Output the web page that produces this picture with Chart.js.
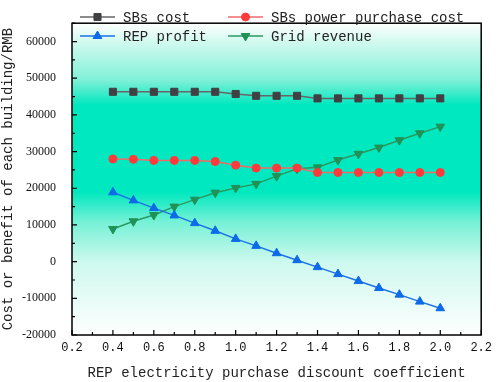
<!doctype html>
<html lang="en">
<head>
  <meta charset="utf-8">
  <title>REP electricity purchase discount coefficient</title>
  <style>
    * { margin: 0; padding: 0; }
    body { background: white; }
    .chartBox { width: 498px; height: 382px; position: relative; }
  </style>
</head>
<body>
<div class="chartBox">
  <canvas id="myChart"></canvas>
</div>

<script src="https://cdn.jsdelivr.net/npm/chart.js"></script>
<script>
  // discount coefficient (x)
  const coef = [0.4, 0.5, 0.6, 0.7, 0.8, 0.9, 1.0, 1.1, 1.2, 1.3, 1.4, 1.5, 1.6, 1.7, 1.8, 1.9, 2.0];

  // values (RMB)
  const sbsCost      = [46300, 46300, 46300, 46300, 46300, 46300, 45700, 45200, 45200, 45200, 44500, 44500, 44500, 44500, 44500, 44500, 44500];
  const sbsPurchase  = [28000, 27900, 27600, 27600, 27600, 27300, 26300, 25500, 25500, 25500, 24300, 24300, 24300, 24300, 24300, 24300, 24300];
  const repProfit    = [18900, 16700, 14600, 12600, 10500, 8400, 6200, 4300, 2300, 400, -1500, -3400, -5300, -7200, -9000, -10900, -12700];
  const gridRevenue  = [8900, 11000, 12700, 15000, 16900, 18800, 20100, 21200, 23300, 25300, 25700, 27700, 29400, 31100, 33100, 35000, 36800];

  const xTicks = [0.2, 0.4, 0.6, 0.8, 1.0, 1.2, 1.4, 1.6, 1.8, 2.0, 2.2];
  const yTicks = [-20000, -10000, 0, 10000, 20000, 30000, 40000, 50000, 60000];

  const toPts = (arr) => arr.map((v, i) => ({ x: coef[i], y: v }));

  // cyan band behind the plot
  const bandPlugin = {
    id: 'band',
    beforeDatasetsDraw(chart) {
      const { ctx, chartArea: a } = chart;
      const g = ctx.createLinearGradient(0, a.top, 0, a.bottom);
      const h = a.bottom - a.top;
      const stop = (y, c) => g.addColorStop(Math.min(1, Math.max(0, (y - a.top) / h)), c);
      stop(a.top, '#ffffff');
      stop(40, '#d6faf0');
      stop(80, '#80f0d8');
      stop(105, '#00e8bf');
      stop(192, '#00e8bf');
      stop(222, '#76f1d6');
      stop(262, '#cdf9ee');
      stop(a.bottom, '#ffffff');
      ctx.save();
      ctx.fillStyle = g;
      ctx.fillRect(a.left, a.top, a.right - a.left, h);
      ctx.restore();
    }
  };

  // frame, inward ticks and the legend inside the plot
  const framePlugin = {
    id: 'frame',
    afterDraw(chart) {
      const { ctx, chartArea: a, scales } = chart;
      ctx.save();
      ctx.strokeStyle = '#000';
      ctx.lineWidth = 1.5;
      ctx.strokeRect(a.left, a.top, a.right - a.left, a.bottom - a.top);

      ctx.lineWidth = 1.2;
      ctx.beginPath();
      for (let v = -20000; v <= 65000; v += 5000) {
        const y = scales.y.getPixelForValue(v);
        const len = v % 10000 === 0 ? 5 : 3;
        ctx.moveTo(a.left, y); ctx.lineTo(a.left + len, y);
      }
      for (let i = 2; i <= 22; i++) {
        const x = scales.x.getPixelForValue(i / 10);
        const len = i % 2 === 0 ? 5 : 3;
        ctx.moveTo(x, a.bottom); ctx.lineTo(x, a.bottom - len);
      }
      ctx.stroke();

      // legend: 2 columns x 2 rows
      const cols = [80, 228];
      const rows = [17, 36];
      const ds = chart.data.datasets;
      ctx.font = '14px "Liberation Mono"';
      ctx.textBaseline = 'middle';
      ds.forEach((d, i) => {
        const x0 = cols[i % 2];
        const y0 = rows[Math.floor(i / 2)];
        ctx.strokeStyle = d.borderColor;
        ctx.lineWidth = 1.5;
        ctx.beginPath();
        ctx.moveTo(x0, y0); ctx.lineTo(x0 + 35, y0);
        ctx.stroke();
        ctx.fillStyle = d.pointBackgroundColor;
        ctx.strokeStyle = d.pointBackgroundColor;
        ctx.lineWidth = 1;
        Chart.helpers.drawPoint(ctx, {
          pointStyle: d.pointStyle,
          rotation: d.pointRotation || 0,
          radius: d.pointRadius,
          borderWidth: 1
        }, x0 + 17.5, y0);
        ctx.fillStyle = '#222';
        ctx.fillText(d.label, x0 + 43, y0 + 1);
      });
      ctx.restore();
    }
  };

  const mk = (label, arr, line, fill, style, r, rot) => ({
    label,
    data: toPts(arr),
    borderColor: line,
    borderWidth: 1.5,
    pointStyle: style,
    pointRadius: r,
    pointRotation: rot || 0,
    pointBackgroundColor: fill,
    pointBorderColor: fill,
    pointBorderWidth: 1,
    tension: 0
  });

  const data = {
    datasets: [
      mk('SBs cost', sbsCost, '#666666', '#404044', 'rect', 5),
      mk('SBs power purchase cost', sbsPurchase, '#f06a6a', '#ff3a3a', 'circle', 4),
      mk('REP profit', repProfit, '#1a72e6', '#0d6ae8', 'triangle', 5),
      mk('Grid revenue', gridRevenue, '#2a9a62', '#1f9257', 'triangle', 5, 180)
    ]
  };

  const config = {
    type: 'line',
    data,
    options: {
      responsive: true,
      maintainAspectRatio: false,
      animation: false,
      layout: { padding: { top: 2, right: 12, left: 0, bottom: 0 } },
      scales: {
        x: {
          type: 'linear',
          min: 0.2,
          max: 2.2,
          afterBuildTicks: (s) => { s.ticks = xTicks.map(v => ({ value: v })); },
          afterFit: (s) => { s.height = 47; },
          grid: { display: false, drawTicks: false },
          border: { display: false },
          ticks: {
            padding: 6,
            color: '#111',
            font: { family: '"Liberation Mono"', size: 12 },
            callback: (v) => Number(v).toFixed(1)
          },
          title: {
            display: true,
            text: 'REP electricity purchase discount coefficient',
            color: '#222',
            font: { family: '"Liberation Mono"', size: 14 },
            padding: { top: 3, bottom: 0 }
          }
        },
        y: {
          min: -20000,
          max: 65000,
          afterBuildTicks: (s) => { s.ticks = yTicks.map(v => ({ value: v })); },
          afterFit: (s) => { s.width = 72; },
          grid: { display: false, drawTicks: false },
          border: { display: false },
          ticks: {
            padding: 16,
            color: '#111',
            font: { family: '"Liberation Serif"', size: 12 },
            callback: (v) => String(v)
          },
          title: {
            display: true,
            text: 'Cost or benefit of each building/RMB',
            color: '#222',
            font: { family: '"Liberation Mono"', size: 14 },
            padding: { top: 0, bottom: 0 }
          }
        }
      },
      plugins: {
        legend: { display: false },
        tooltip: { enabled: false }
      }
    },
    plugins: [bandPlugin, framePlugin]
  };

  const myChart = new Chart(document.getElementById('myChart'), config);
</script>
</body>
</html>
